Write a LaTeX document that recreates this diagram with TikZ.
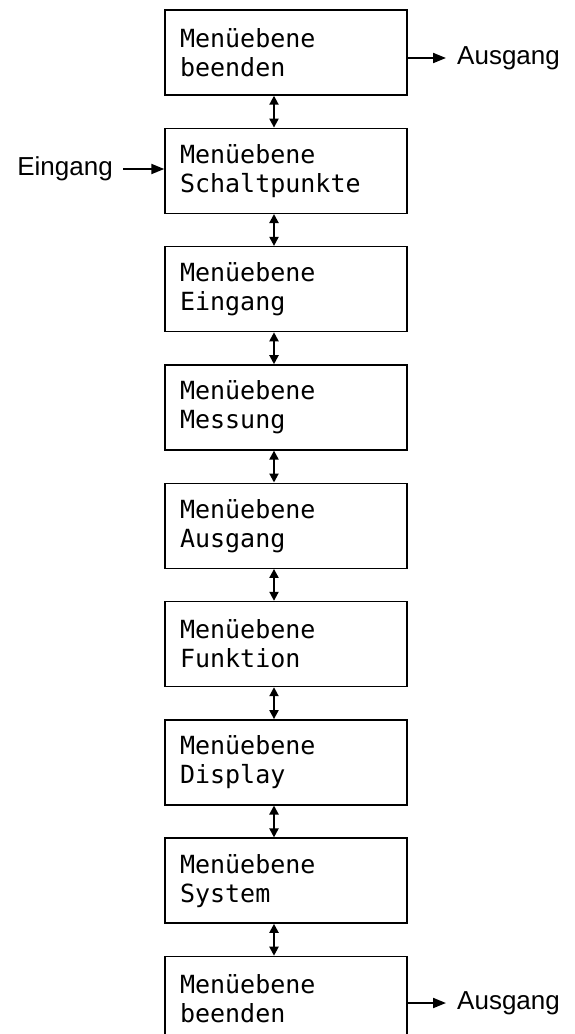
\documentclass[tikz,border=0pt]{standalone}
\usepackage{fontspec}
\setmainfont{Liberation Sans}
\setmonofont{DejaVu Sans Mono}
\usetikzlibrary{arrows.meta}
\begin{document}
\begin{tikzpicture}[x=1pt,y=1pt]
\useasboundingbox (0,0) rectangle (574,-1034);
\tikzstyle{menu} = [rectangle, draw=black, line width=1.4pt, minimum width=242pt, minimum height=85pt, text width=212pt, align=left, font=\ttfamily\fontsize{25}{29}\selectfont]
\tikzstyle{extlabel} = [inner sep=0pt, font=\fontsize{26}{30}\selectfont]
\tikzstyle{arrow} = [line width=2pt,->,>={Triangle[length=13pt,width=10pt]}]
\tikzstyle{link} = [line width=2pt,<->,>={Triangle[length=9pt,width=9pt]}]
\node (beenden) [menu] at (286,-52.5) {Menüebene\\beenden};
\node (schalt) [menu, below of=beenden, node distance=118.3pt] {Menüebene\\Schaltpunkte};
\node (eingang) [menu, below of=schalt, node distance=118.3pt] {Menüebene\\Eingang};
\node (messung) [menu, below of=eingang, node distance=118.3pt] {Menüebene\\Messung};
\node (ausgang) [menu, below of=messung, node distance=118.3pt] {Menüebene\\Ausgang};
\node (funktion) [menu, below of=ausgang, node distance=118.3pt] {Menüebene\\Funktion};
\node (display) [menu, below of=funktion, node distance=118.3pt] {Menüebene\\Display};
\node (system) [menu, below of=display, node distance=118.3pt] {Menüebene\\System};
\node (ende) [menu, below of=system, node distance=118.3pt] {Menüebene\\beenden};
\node (aus1) [extlabel, anchor=west] at (457,-58) {Ausgang};
\node (aus2) [extlabel, anchor=west] at (457,-1003) {Ausgang};
\node (ein) [extlabel, anchor=east] at (113,-169) {Eingang};
\draw [arrow, shorten >=11pt] (aus1.west -| beenden.east) -- (aus1.west);
\draw [arrow, shorten >=11pt] (aus2.west -| ende.east) -- (aus2.west);
\draw [arrow, shorten <=10pt] (ein.east) -- (ein.east -| schalt.west);
\draw [link] ([xshift=-12pt]beenden.south) -- ([xshift=-12pt]schalt.north);
\draw [link] ([xshift=-12pt]schalt.south) -- ([xshift=-12pt]eingang.north);
\draw [link] ([xshift=-12pt]eingang.south) -- ([xshift=-12pt]messung.north);
\draw [link] ([xshift=-12pt]messung.south) -- ([xshift=-12pt]ausgang.north);
\draw [link] ([xshift=-12pt]ausgang.south) -- ([xshift=-12pt]funktion.north);
\draw [link] ([xshift=-12pt]funktion.south) -- ([xshift=-12pt]display.north);
\draw [link] ([xshift=-12pt]display.south) -- ([xshift=-12pt]system.north);
\draw [link] ([xshift=-12pt]system.south) -- ([xshift=-12pt]ende.north);
\end{tikzpicture}
\end{document}
